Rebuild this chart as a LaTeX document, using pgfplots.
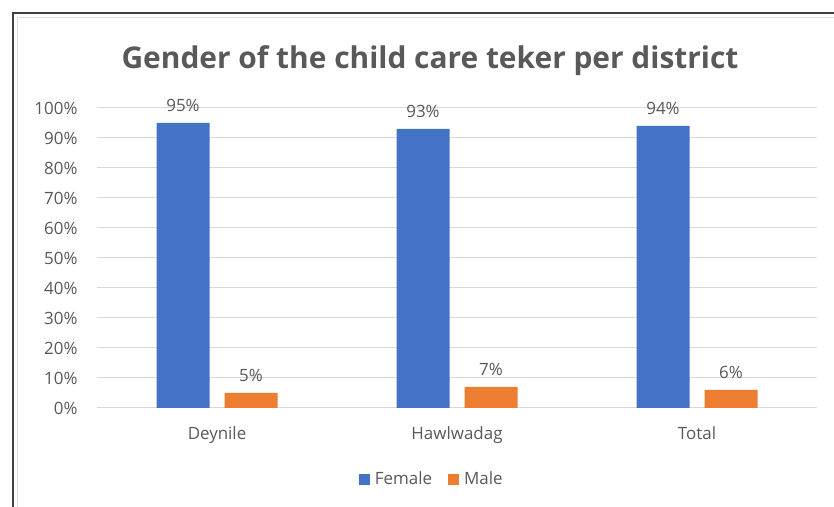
\documentclass[border=0pt]{standalone}
\usepackage{fontspec}
\setmainfont{Open Sans}
\usepackage{pgfplots}
\pgfplotsset{compat=1.18}
\definecolor{txt}{HTML}{595959}
\definecolor{gridc}{HTML}{D9D9D9}
\definecolor{fem}{HTML}{4472C4}
\definecolor{mal}{HTML}{ED7D31}
\begin{document}
\begin{tikzpicture}[x=1bp,y=1bp]
\useasboundingbox (0,0) rectangle (834,507);
\fill[white] (0,0) rectangle (834,507);
\draw[black!75, line width=1.5bp] (13,0) -- (13,494) -- (834,494);
\draw[black!12, line width=1bp] (17.5,0) -- (17.5,489.5) -- (834,489.5);
\node[text=txt, font=\fontsize{30}{34}\selectfont\bfseries] at (430,446) {Gender of the child care teker per district};
\begin{axis}[
  at={(97bp,99bp)}, anchor=south west,
  scale only axis, width=720bp, height=300bp,
  ybar=15bp, bar width=53bp,
  xmin=-0.5, xmax=2.5, ymin=0, ymax=100,
  enlargelimits=false, clip=false,
  xtick={0,1,2}, xticklabels={Deynile,Hawlwadag,Total},
  ytick={0,10,...,100},
  yticklabels={0\%,10\%,20\%,30\%,40\%,50\%,60\%,70\%,80\%,90\%,100\%},
  axis line style={draw=none},
  major tick length=0pt,
  ymajorgrids, grid style={gridc, line width=1bp},
  tick label style={font=\fontsize{17}{20}\selectfont, text=txt},
  yticklabel style={xshift=-16bp},
  xticklabel style={yshift=-15bp},
  /pgf/number format/assume math mode=true,
  nodes near coords={\pgfmathprintnumber{\pgfplotspointmeta}\%},
  nodes near coords style={font=\fontsize{17}{20}\selectfont, text=txt, anchor=south, yshift=8bp},
  legend style={at={(0.465,-0.237)}, anchor=center, draw=none, fill=none,
    legend columns=2, font=\fontsize{17}{20}\selectfont, text=txt,
    /tikz/every even column/.append style={column sep=14bp}},
  legend image code/.code={\fill[#1] (0bp,-5.5bp) rectangle (11bp,5.5bp); \path (14bp,0bp);},
]
\addplot[fill=fem, draw=none] coordinates {(0,95) (1,93) (2,94)};
\addplot[fill=mal, draw=none] coordinates {(0,5) (1,7) (2,6)};
\legend{Female,Male}
\end{axis}
\end{tikzpicture}
\end{document}
